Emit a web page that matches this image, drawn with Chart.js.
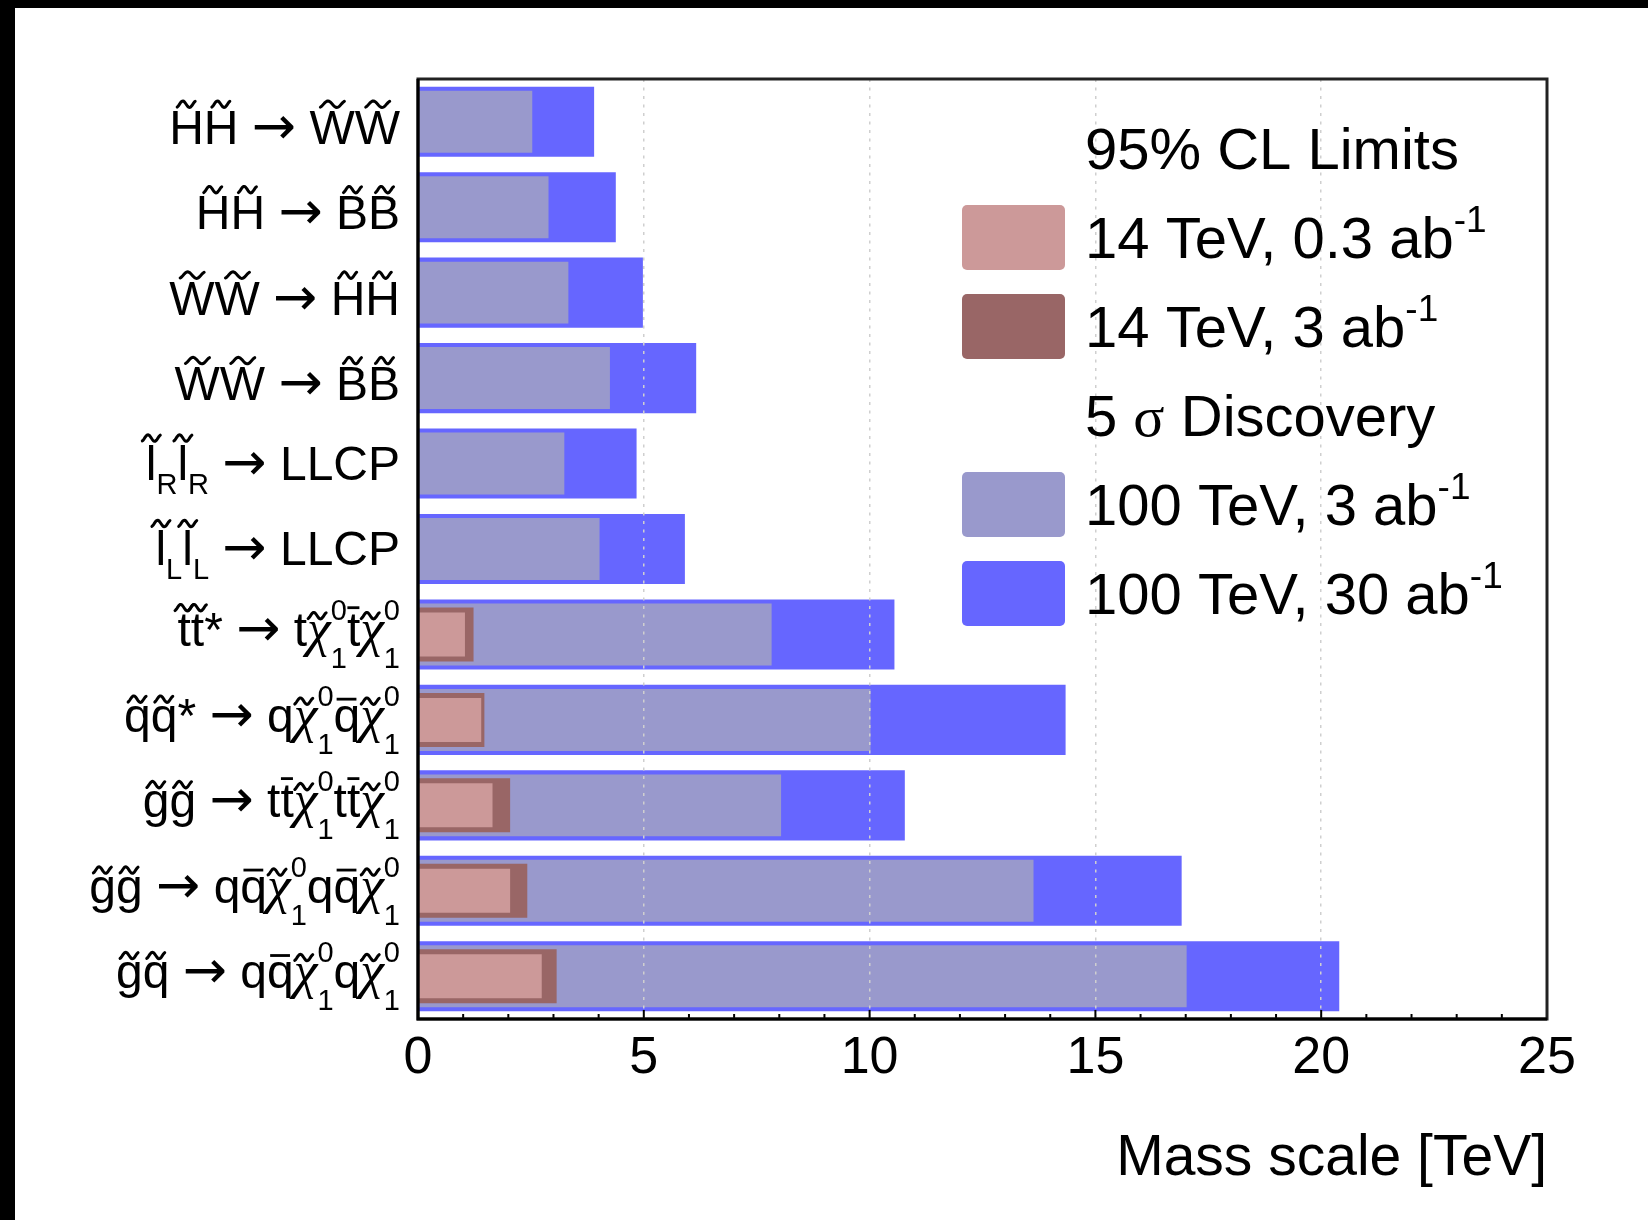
<!DOCTYPE html>
<html>
<head>
<meta charset="utf-8">
<script src="https://cdn.jsdelivr.net/npm/chart.js@4.4.1/dist/chart.umd.min.js"></script>
<style>
html, body { margin:0; padding:0; background:#000; width:1648px; height:1220px; overflow:hidden; }
#frame { position:absolute; left:15px; top:8px; width:1633px; height:1212px; background:#fff; }
#c { display:block; }
</style>
</head>
<body>
<div id="frame"><canvas id="c" width="1633" height="1212"></canvas></div>
<script>
// ---------- data ----------
const categories = [
  "#tilde{H}#tilde{H} #rightarrow #tilde{W}#tilde{W}",
  "#tilde{H}#tilde{H} #rightarrow #tilde{B}#tilde{B}",
  "#tilde{W}#tilde{W} #rightarrow #tilde{H}#tilde{H}",
  "#tilde{W}#tilde{W} #rightarrow #tilde{B}#tilde{B}",
  "#tilde{l}_{R}#tilde{l}_{R} #rightarrow LLCP",
  "#tilde{l}_{L}#tilde{l}_{L} #rightarrow LLCP",
  "#tilde{t}#tilde{t}* #rightarrow t#tilde{#chi}_{1}^{0}#bar{t}#tilde{#chi}_{1}^{0}",
  "#tilde{q}#tilde{q}* #rightarrow q#tilde{#chi}_{1}^{0}#bar{q}#tilde{#chi}_{1}^{0}",
  "#tilde{g}#tilde{g} #rightarrow t#bar{t}#tilde{#chi}_{1}^{0}t#bar{t}#tilde{#chi}_{1}^{0}",
  "#tilde{g}#tilde{g} #rightarrow q#bar{q}#tilde{#chi}_{1}^{0}q#bar{q}#tilde{#chi}_{1}^{0}",
  "#tilde{g}#tilde{q} #rightarrow q#bar{q}#tilde{#chi}_{1}^{0}q#tilde{#chi}_{1}^{0}"
];
const limit14_03  = [null, null, null, null, null, null, 1.04, 1.40, 1.65, 2.04, 2.74];
const limit14_3   = [null, null, null, null, null, null, 1.23, 1.47, 2.04, 2.42, 3.07];
const disc100_3   = [2.53, 2.89, 3.33, 4.25, 3.24, 4.02, 7.83, 10.02, 8.04, 13.63, 17.02];
const disc100_30  = [3.90, 4.38, 4.98, 6.16, 4.84, 5.91, 10.55, 14.34, 10.78, 16.91, 20.40];
const seriesLabels = ["14 TeV, 0.3 ab^{-1}", "14 TeV, 3 ab^{-1}", "100 TeV, 3 ab^{-1}", "100 TeV, 30 ab^{-1}"];
const legendHeadings = ["95% CL Limits", "5 σ Discovery"];
const xTickValues = [0, 5, 10, 15, 20, 25];
const xTitle = "Mass scale [TeV]";

// ---------- styling ----------
const FONT = '"Liberation Sans", Arial, Helvetica, sans-serif';
const GREEK = '"Liberation Serif", "DejaVu Serif", serif';
const ARROW = '"DejaVu Sans", "Liberation Sans", sans-serif';
const colors = ['#cc9999', '#996666', '#9999cc', '#6666ff'];
const barPct = [0.515, 0.632, 0.725, 0.82];

// ---------- tiny TLatex-like rich text ----------
function parseTex(s) {
  const toks = [];
  let i = 0, buf = '';
  const flush = () => { if (buf) { toks.push({type:'text', str:buf}); buf = ''; } };
  const readGroup = () => {
    let depth = 0; const start = i + 1;
    for (; i < s.length; i++) {
      if (s[i] === '{') depth++;
      else if (s[i] === '}') { depth--; if (depth === 0) break; }
    }
    const g = s.slice(start, i); i++;
    return g.replace(/#chi/g, 'χ').replace(/#sigma/g, 'σ');
  };
  while (i < s.length) {
    if (s.startsWith('#tilde', i)) { flush(); i += 6; toks.push({type:'acc', acc:'tilde', str:readGroup()}); }
    else if (s.startsWith('#bar', i)) { flush(); i += 4; toks.push({type:'acc', acc:'bar', str:readGroup()}); }
    else if (s.startsWith('#rightarrow', i)) { buf += '→'; i += 11; }
    else if (s[i] === '_' || s[i] === '^') {
      flush();
      let sub = null, sup = null;
      while (i < s.length && (s[i] === '_' || s[i] === '^')) {
        const c = s[i]; i++;
        const g = readGroup();
        if (c === '_') sub = g; else sup = g;
      }
      toks.push({type:'ss', sub, sup});
    } else { buf += s[i]; i++; }
  }
  flush();
  return toks;
}
const isGreek = ch => /[\u0370-\u03ff]/.test(ch);
const cls = ch => isGreek(ch) ? 'g' : (ch === '→' ? 'a' : 'n');
function splitRuns(s) {
  const runs = [];
  for (const ch of s) {
    const c = cls(ch);
    if (runs.length && runs[runs.length - 1].c === c) runs[runs.length - 1].s += ch;
    else runs.push({c, s:ch});
  }
  return runs;
}
function fontOf(ch, size, st) {
  if (ch === 'χ') return `italic ${size * 1.12}px ${GREEK}`;
  if (ch === '→') return `${size * 1.1}px ${ARROW}`;
  return isGreek(ch) ? `${size}px ${GREEK}` : `${size}px ${st.family}`;
}
function layoutRich(ctx, str, st) {
  const toks = parseTex(str);
  const items = [];
  let x = 0, top = 0, bottom = 0, lastGreek = false;
  function put(s, size, dy, x0) {
    let adv = 0;
    for (const r of splitRuns(s)) {
      const font = fontOf(r.s[0], size, st);
      ctx.font = font;
      const m = ctx.measureText(r.s);
      items.push({k:'t', s:r.s, font, x:x0 + adv, dy});
      top = Math.min(top, dy - m.actualBoundingBoxAscent);
      bottom = Math.max(bottom, dy + m.actualBoundingBoxDescent);
      adv += m.width;
      lastGreek = isGreek(r.s[r.s.length - 1]);
    }
    return adv;
  }
  for (const t of toks) {
    if (t.type === 'text') {
      x += put(t.str, st.size, 0, x);
    } else if (t.type === 'acc') {
      ctx.font = fontOf(t.str[0], st.size, st);
      const m = ctx.measureText(t.str);
      const adv = put(t.str, st.size, 0, x);
      const inkL = x - m.actualBoundingBoxLeft, inkR = x + m.actualBoundingBoxRight;
      const gTop = -m.actualBoundingBoxAscent;
      const cy = gTop - st.accGap - st.accH / 2;
      items.push({k:t.acc, cx:(inkL + inkR) / 2, w:inkR - inkL, cy});
      top = Math.min(top, cy - st.accH / 2 - 1.5);
      x += adv;
    } else if (t.type === 'ss') {
      const g = lastGreek;
      let adv = 0;
      if (t.sup) adv = Math.max(adv, put(t.sup, st.script, -st.supRaise, x));
      if (t.sub) adv = Math.max(adv, put(t.sub, st.script, g ? st.subDropGreek : st.subDrop, x));
      lastGreek = false;
      x += adv;
    }
  }
  return {items, width:x, top, bottom};
}
function drawTilde(ctx, cx, cy, w, h) {
  ctx.beginPath();
  const N = 28;
  for (let k = 0; k <= N; k++) {
    const t = k / N;
    const th = -0.35 * Math.PI + t * 2.7 * Math.PI;
    const px = cx - w / 2 + t * w;
    const py = cy - (h / 2) * Math.sin(th);
    if (k) ctx.lineTo(px, py); else ctx.moveTo(px, py);
  }
  ctx.stroke();
}
function drawRich(ctx, str, x, y, st, align, vmode) {
  const L = layoutRich(ctx, str, st);
  const x0 = align === 'right' ? x - L.width : x;
  const base = vmode === 'box' ? y - (L.top + L.bottom) / 2 : y + st.capMid;
  ctx.save();
  ctx.fillStyle = '#000'; ctx.strokeStyle = '#000';
  ctx.textBaseline = 'alphabetic'; ctx.textAlign = 'left';
  ctx.lineCap = 'round';
  for (const it of L.items) {
    if (it.k === 't') {
      ctx.font = it.font;
      ctx.fillText(it.s, x0 + it.x, base + it.dy);
    } else if (it.k === 'tilde') {
      ctx.lineWidth = st.accLW;
      drawTilde(ctx, x0 + it.cx, base + it.cy, Math.max(18, Math.min(24, it.w * 0.6)), st.accH);
    } else if (it.k === 'bar') {
      const bw = Math.max(12, it.w * 0.9);
      ctx.fillRect(x0 + it.cx - bw / 2, base + it.cy - 1.4, bw, 2.8);
    }
  }
  ctx.restore();
}

const labelStyle = {family:FONT, size:48, script:29, supRaise:26, subDrop:14, subDropGreek:22,
                    accGap:3.5, accH:6.5, accLW:3};
const legendStyle = {family:FONT, size:58, script:37, supRaise:26, subDrop:12, subDropGreek:12,
                     accGap:3, accH:6, accLW:3, capMid:20.8};

// ---------- decorations: frame, ticks, category labels, legend ----------
const decor = {
  id: 'decor',
  afterDraw(chart) {
    const {ctx, chartArea:a, scales:{x, y}} = chart;
    ctx.save();
    // inside tick marks on the bottom axis
    ctx.strokeStyle = '#000';
    ctx.lineWidth = 2;
    for (let v = x.min; v <= x.max; v += 1) {
      const px = x.getPixelForValue(v);
      const len = (v % 5 === 0) ? 9 : 5;
      ctx.beginPath(); ctx.moveTo(px, a.bottom); ctx.lineTo(px, a.bottom - len); ctx.stroke();
    }
    // frame
    ctx.lineWidth = 3;
    ctx.strokeStyle = '#222';
    ctx.strokeRect(a.left, a.top, a.right - a.left, a.bottom - a.top);
    ctx.strokeStyle = '#000';
    ctx.beginPath(); ctx.moveTo(a.left, a.top); ctx.lineTo(a.left, a.bottom); ctx.lineTo(a.right, a.bottom); ctx.stroke();
    ctx.restore();

    // category labels
    categories.forEach((lab, i) => {
      drawRich(ctx, lab, a.left - 18, y.getPixelForValue(i), labelStyle, 'right', 'box');
    });

    // legend
    const boxX = a.left + 544, boxW = 103, boxH = 65, textX = a.left + 667;
    const rowY = k => a.top + 69.5 + 89 * k;
    const rows = [
      {head: legendHeadings[0]},
      {ds: 0}, {ds: 1},
      {head: legendHeadings[1]},
      {ds: 2}, {ds: 3}
    ];
    rows.forEach((r, k) => {
      const cy = rowY(k);
      if (r.head !== undefined) {
        drawRich(ctx, r.head, textX, cy, legendStyle, 'left', 'cap');
      } else {
        const d = chart.data.datasets[r.ds];
        ctx.save();
        ctx.fillStyle = d.backgroundColor;
        ctx.beginPath();
        ctx.roundRect(boxX, cy - boxH / 2, boxW, boxH, 5);
        ctx.fill();
        ctx.restore();
        drawRich(ctx, d.label, textX, cy, legendStyle, 'left', 'cap');
      }
    });
  }
};

const datasets = [limit14_03, limit14_3, disc100_3, disc100_30].map((vals, i) => ({
  label: seriesLabels[i],
  data: vals,
  backgroundColor: colors[i],
  borderWidth: 0,
  grouped: false,
  categoryPercentage: 1,
  barPercentage: barPct[i],
  order: i
}));

Chart.defaults.color = '#000';
Chart.defaults.font.family = FONT;

new Chart(document.getElementById('c'), {
  type: 'bar',
  data: { labels: categories, datasets },
  options: {
    indexAxis: 'y',
    responsive: false,
    animation: false,
    devicePixelRatio: 1,
    layout: { padding: { left: 0, top: 71, right: 101, bottom: 0 } },
    plugins: { legend: { display: false }, tooltip: { enabled: false }, title: { display: false } },
    scales: {
      x: {
        type: 'linear', position: 'bottom', min: 0, max: 25, z: 1,
        afterBuildTicks: s => { s.ticks = xTickValues.map(v => ({ value: v })); },
        afterFit: s => { s.height = 201; },
        ticks: { font: { family: FONT, size: 52 }, color: '#000', padding: 8, maxRotation: 0, autoSkip: false },
        grid: { display: true, drawTicks: false, color: '#cfcfcf', lineWidth: 1.5, z: 1 },
        border: { display: false, dash: [3, 5.5] },
        title: { display: true, text: xTitle, align: 'end', color: '#000',
                 font: { family: FONT, size: 57 }, padding: { top: 0, bottom: 27 } }
      },
      y: {
        type: 'category', position: 'left', offset: true,
        afterFit: s => { s.width = 403; },
        ticks: { display: false },
        grid: { display: false },
        border: { display: false }
      }
    }
  },
  plugins: [decor]
});
</script>
</body>
</html>
